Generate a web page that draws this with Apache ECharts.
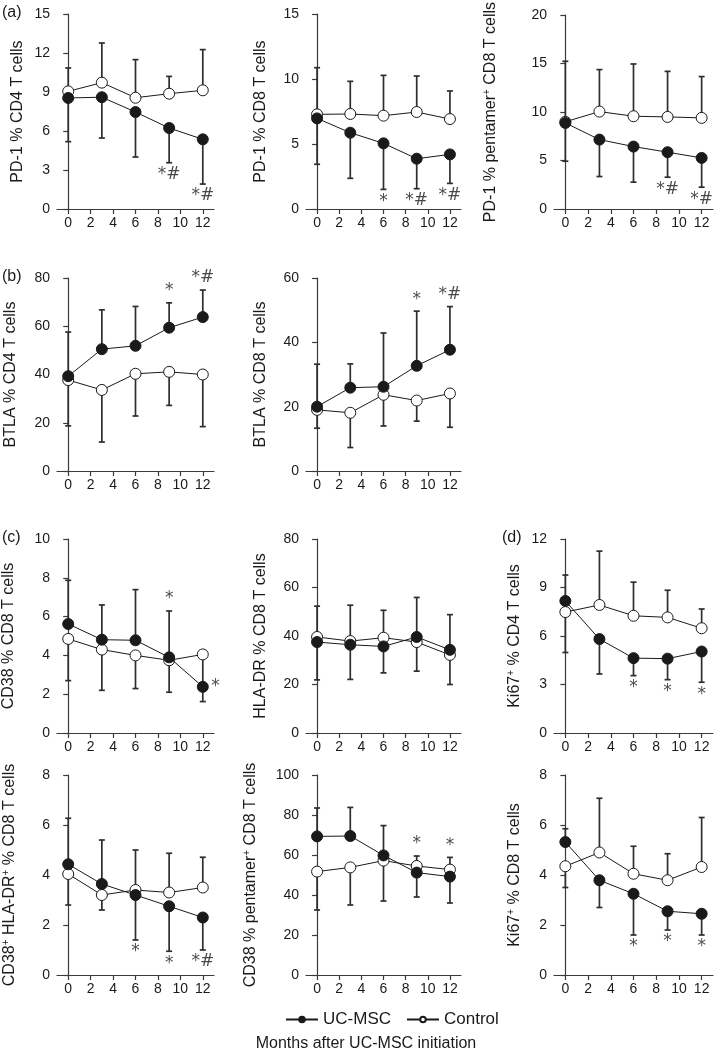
<!DOCTYPE html>
<html><head><meta charset="utf-8">
<script src="https://cdn.jsdelivr.net/npm/echarts@6/dist/echarts.min.js"></script>
<style>html,body{margin:0;padding:0;background:#fff}#c{width:719px;height:1050px}</style>
</head><body><div id="c"></div>
<script>
// ---------- DATA ----------
const months = [0, 3, 6, 9, 12];
const xTicks = [0, 2, 4, 6, 8, 10, 12];
const seriesNames = ['UC-MSC', 'Control'];

// (a) PD-1 % CD4 T cells
const a1Uc = [8.54, 8.6, 7.46, 6.23, 5.36];
const a1UcBar = [5.18, 5.46, 4.0, 3.56, 1.92];
const a1Ctrl = [9.05, 9.72, 8.56, 8.87, 9.13];
const a1CtrlBar = [10.85, 12.77, 11.49, 10.2, 12.26];
const a1Marks = ['', '', '', '*#', '*#'];

// PD-1 % CD8 T cells
const a2Uc = [6.97, 5.87, 5.05, 3.87, 4.2];
const a2UcBar = [3.44, 2.36, 1.51, 1.56, 1.97];
const a2Ctrl = [7.28, 7.31, 7.18, 7.46, 6.92];
const a2CtrlBar = [10.87, 9.82, 10.28, 10.23, 9.08];
const a2Marks = ['', '', '*', '*#', '*#'];

// PD-1 % pentamer+ CD8 T cells
const a3Uc = [8.88, 7.16, 6.44, 5.86, 5.27];
const a3UcBar = [4.93, 3.35, 2.77, 3.28, 2.25];
const a3Ctrl = [9.0, 10.05, 9.57, 9.5, 9.4];
const a3CtrlBar = [15.24, 14.38, 14.96, 14.2, 13.66];
const a3Marks = ['', '', '', '*#', '*#'];

// (b) BTLA % CD4 T cells
const b1Uc = [39.3, 50.5, 51.9, 59.4, 63.8];
const b1UcBar = [57.6, 66.8, 68.2, 69.7, 75.0];
const b1Ctrl = [37.7, 33.6, 40.3, 41.1, 40.0];
const b1CtrlBar = [18.7, 12.0, 22.8, 27.2, 18.4];
const b1Marks = ['', '', '', '*', '*#'];

// BTLA % CD8 T cells
const b2Uc = [20.0, 25.9, 26.2, 32.7, 37.7];
const b2UcBar = [33.2, 33.3, 42.9, 49.7, 51.1];
const b2Ctrl = [19.0, 18.1, 23.7, 21.9, 24.1];
const b2CtrlBar = [13.3, 7.3, 14.0, 15.5, 13.6];
const b2Marks = ['', '', '', '*', '*#'];

// (c) CD38 % CD8 T cells
const c1Uc = [5.62, 4.81, 4.78, 3.9, 2.38];
const c1UcBar = [7.87, 6.6, 7.39, 6.29, null];
const c1Ctrl = [4.85, 4.3, 4.0, 3.75, 4.05];
const c1CtrlBar = [2.7, 2.2, 2.29, 2.1, 1.62];
const c1Marks = ['', '', '', '*', '*'];

// HLA-DR % CD8 T cells
const c2Uc = [37.5, 36.4, 35.7, 39.6, 34.3];
const c2UcBar = [52.3, 52.7, 50.6, 55.9, 48.8];
const c2Ctrl = [39.6, 37.9, 39.3, 37.5, 32.2];
const c2CtrlBar = [21.9, 22.1, 24.8, 25.5, 20.0];
const c2Marks = ['', '', '', '', ''];

// (d) Ki67+ % CD4 T cells
const d1Uc = [8.17, 5.81, 4.63, 4.6, 5.04];
const d1UcBar = [4.98, 3.65, 3.55, 3.3, 3.14];
const d1Ctrl = [7.48, 7.92, 7.25, 7.15, 6.48];
const d1CtrlBar = [9.77, 11.25, 9.33, 8.83, 7.67];
const d1Marks = ['', '', '*', '*', '*'];

// CD38+ HLA-DR+ % CD8 T cells
const e1Uc = [4.43, 3.64, 3.2, 2.75, 2.3];
const e1UcBar = [6.27, 5.4, 1.4, 0.95, 1.0];
const e1Ctrl = [4.04, 3.2, 3.4, 3.3, 3.5];
const e1CtrlBar = [2.8, 2.6, 5.0, 4.87, 4.71];
const e1Marks = ['', '', '*', '*', '*#'];

// CD38 % pentamer+ CD8 T cells
const e2Uc = [69.3, 69.5, 59.8, 51.2, 49.2];
const e2UcBar = [83.5, 83.8, 74.7, 39.0, 36.0];
const e2Ctrl = [51.7, 53.8, 57.2, 54.5, 52.7];
const e2CtrlBar = [32.5, 35.0, 37.0, 59.5, 58.8];
const e2Marks = ['', '', '', '*', '*'];

// Ki67+ % CD8 T cells
const e3Uc = [5.32, 3.79, 3.25, 2.55, 2.45];
const e3UcBar = [5.85, 2.7, 1.6, 1.8, 1.6];
const e3Ctrl = [4.35, 4.9, 4.05, 3.79, 4.32];
const e3CtrlBar = [3.5, 7.07, 5.15, 4.85, 6.3];
const e3Marks = ['', '', '*', '*', '*'];

// ---------- LAYOUT / STYLE ----------
const FONT = 'Liberation Sans, Arial, sans-serif';
const INK = '#1a1a1a';
const AX = '#3a3a3a';
const rows = [[14, 209], [278, 471], [539, 733], [775, 975]];
const cols = [[57, 157], [306, 155], [554, 159]];

// mark placement per point: 'ucBelow', 'ucAbove', 'ctrlAbove', 'ucRight'
const panels = [
  {r:0,c:0,name:'PD-1 % CD4 T cells',max:15,step:3,uc:a1Uc,ucBar:a1UcBar,ct:a1Ctrl,ctBar:a1CtrlBar,marks:a1Marks,place:['','','','ucBelow','ucBelow'],gap:31},
  {r:0,c:1,name:'PD-1 % CD8 T cells',max:15,step:5,uc:a2Uc,ucBar:a2UcBar,ct:a2Ctrl,ctBar:a2CtrlBar,marks:a2Marks,place:['','','ucBelow','ucBelow','ucBelow'],gap:37},
  {r:0,c:2,name:'PD-1 % pentamer{s|+} CD8 T cells',max:20,step:5,uc:a3Uc,ucBar:a3UcBar,ct:a3Ctrl,ctBar:a3CtrlBar,marks:a3Marks,place:['','','','ucBelow','ucBelow'],gap:54},
  {r:1,c:0,name:'BTLA % CD4 T cells',max:80,step:20,uc:b1Uc,ucBar:b1UcBar,ct:b1Ctrl,ctBar:b1CtrlBar,marks:b1Marks,place:['','','','ucAbove','ucAbove'],gap:38},
  {r:1,c:1,name:'BTLA % CD8 T cells',max:60,step:20,uc:b2Uc,ucBar:b2UcBar,ct:b2Ctrl,ctBar:b2CtrlBar,marks:b2Marks,place:['','','','ucAbove','ucAbove'],gap:37},
  {r:2,c:0,name:'CD38 % CD8 T cells',max:10,step:2,uc:c1Uc,ucBar:c1UcBar,ct:c1Ctrl,ctBar:c1CtrlBar,marks:c1Marks,place:['','','','ucAbove','ucRight'],gap:40},
  {r:2,c:1,name:'HLA-DR % CD8 T cells',max:80,step:20,uc:c2Uc,ucBar:c2UcBar,ct:c2Ctrl,ctBar:c2CtrlBar,marks:c2Marks,place:['','','','',''],gap:37},
  {r:2,c:2,name:'Ki67{s|+} % CD4 T cells',max:12,step:3,uc:d1Uc,ucBar:d1UcBar,ct:d1Ctrl,ctBar:d1CtrlBar,marks:d1Marks,place:['','','ucBelow','ucBelow','ucBelow'],gap:30},
  {r:3,c:0,name:'CD38{s|+} HLA-DR{s|+} % CD8 T cells',max:8,step:2,uc:e1Uc,ucBar:e1UcBar,ct:e1Ctrl,ctBar:e1CtrlBar,marks:e1Marks,place:['','','ucBelow','ucBelow','ucBelow'],gap:38},
  {r:3,c:1,name:'CD38 % pentamer{s|+} CD8 T cells',max:100,step:20,uc:e2Uc,ucBar:e2UcBar,ct:e2Ctrl,ctBar:e2CtrlBar,marks:e2Marks,place:['','','','ctrlAbove','ctrlAbove'],gap:46},
  {r:3,c:2,name:'Ki67{s|+} % CD8 T cells',max:8,step:2,uc:e3Uc,ucBar:e3UcBar,ct:e3Ctrl,ctBar:e3CtrlBar,marks:e3Marks,place:['','','ucBelow','ucBelow','ucBelow'],gap:30}
];

const grids = [], xAxes = [], yAxes = [], series = [];
function errSeries(i, vals, ends) {
  const data = [];
  vals.forEach((v, k) => { if (ends[k] != null) data.push([months[k], v, ends[k]]); });
  return {
    type: 'custom', xAxisIndex: i, yAxisIndex: i, z: 1, silent: true, data,
    encode: {x: 0, y: [1, 2]},
    renderItem: (params, api) => {
      const p0 = api.coord([api.value(0), api.value(1)]);
      const p1 = api.coord([api.value(0), api.value(2)]);
      const cap = 3;
      const st = {stroke: '#2e2e2e', lineWidth: 1.7};
      return {type: 'group', children: [
        {type: 'line', shape: {x1: p0[0], y1: p0[1], x2: p1[0], y2: p1[1]}, style: st},
        {type: 'line', shape: {x1: p1[0] - cap, y1: p1[1], x2: p1[0] + cap, y2: p1[1]}, style: st}
      ]};
    }
  };
}

panels.forEach((p, i) => {
  const [top, bottom] = rows[p.r];
  const [left, width] = cols[p.c];
  grids.push({left, top, width, height: bottom - top});
  xAxes.push({
    type: 'value', gridIndex: i, min: -1, max: 13,
    axisLine: {lineStyle: {color: AX, width: 1.2}},
    axisTick: {customValues: xTicks, length: 5, lineStyle: {color: AX, width: 1.2}},
    axisLabel: {customValues: xTicks, fontSize: 14, color: INK, fontFamily: FONT, margin: 7},
    splitLine: {show: false}
  });
  yAxes.push({
    type: 'value', gridIndex: i, min: 0, max: p.max, interval: p.step,
    name: p.name, nameLocation: 'middle', nameGap: p.gap,
    nameTextStyle: {fontSize: 16, color: INK, fontFamily: FONT,
      rich: {s: {fontSize: 10, verticalAlign: 'top', color: INK, fontFamily: FONT, padding: [0, 0, 8, 0]}}},
    axisLine: {show: true, lineStyle: {color: AX, width: 1.2}},
    axisTick: {show: true, length: 5, lineStyle: {color: AX, width: 1.2}},
    axisLabel: {fontSize: 14, color: INK, fontFamily: FONT, margin: 7},
    splitLine: {show: false}
  });
  series.push(errSeries(i, p.uc, p.ucBar));
  series.push(errSeries(i, p.ct, p.ctBar));
  series.push({
    name: 'Control', type: 'line', xAxisIndex: i, yAxisIndex: i, z: 3,
    data: months.map((m, k) => [m, p.ct[k]]),
    symbol: 'circle', symbolSize: 11,
    lineStyle: {color: INK, width: 1}, itemStyle: {color: '#fff', borderColor: INK, borderWidth: 1}
  });
  series.push({
    name: 'UC-MSC', type: 'line', xAxisIndex: i, yAxisIndex: i, z: 4,
    data: months.map((m, k) => [m, p.uc[k]]),
    symbol: 'circle', symbolSize: 11,
    lineStyle: {color: INK, width: 1}, itemStyle: {color: INK, borderColor: INK, borderWidth: 1}
  });
  const md = [];
  p.marks.forEach((t, k) => {
    if (!t) return;
    const pl = p.place[k];
    let y, pos;
    if (pl === 'ucBelow') { y = p.ucBar[k]; pos = 'bottom'; }
    else if (pl === 'ucAbove') { y = p.ucBar[k]; pos = 'top'; }
    else if (pl === 'ctrlAbove') { y = p.ctBar[k]; pos = 'top'; }
    else { y = p.uc[k]; pos = 'right'; }
    md.push({value: [months[k], y], label: {position: pos, formatter: t, distance: pos === 'right' ? 8 : 3}});
  });
  series.push({
    type: 'scatter', xAxisIndex: i, yAxisIndex: i, z: 5, silent: true,
    symbolSize: 1, itemStyle: {color: 'rgba(0,0,0,0)'}, data: md,
    label: {show: true, fontSize: 17, color: INK, fontFamily: 'DejaVu Sans, sans-serif'}
  });
});

const chart = echarts.init(document.getElementById('c'), null, {renderer: 'canvas'});
chart.setOption({
  animation: false,
  backgroundColor: '#fff',
  grid: grids, xAxis: xAxes, yAxis: yAxes, series,
  legend: {
    data: seriesNames, top: 1006, left: 280, itemWidth: 32, itemHeight: 7, itemGap: 15,
    textStyle: {fontSize: 17, color: INK, fontFamily: FONT}
  },
  graphic: [
    {type: 'text', left: 2, top: 5, style: {text: '(a)', fontSize: 16, fill: INK, fontFamily: FONT}},
    {type: 'text', left: 2, top: 269, style: {text: '(b)', fontSize: 16, fill: INK, fontFamily: FONT}},
    {type: 'text', left: 2, top: 530, style: {text: '(c)', fontSize: 16, fill: INK, fontFamily: FONT}},
    {type: 'text', left: 502, top: 530, style: {text: '(d)', fontSize: 16, fill: INK, fontFamily: FONT}},
    {type: 'text', x: 366, y: 1044, style: {text: 'Months after UC-MSC initiation', fontSize: 16, fill: INK, fontFamily: FONT, align: 'center', verticalAlign: 'middle'}}
  ]
});
</script>
</body></html>
